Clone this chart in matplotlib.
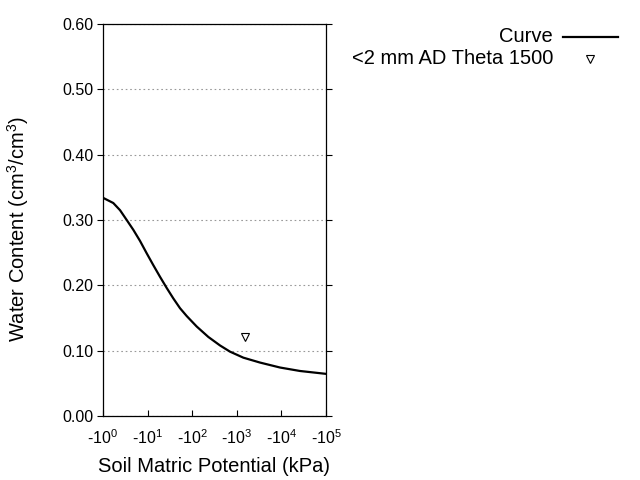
import math
import matplotlib
matplotlib.use("Agg")
import matplotlib.pyplot as plt
from matplotlib.ticker import FixedLocator, FuncFormatter, NullLocator
from matplotlib.lines import Line2D

plt.rcParams['font.family'] = ['Liberation Sans', 'DejaVu Sans']
plt.rcParams['mathtext.fontset'] = 'custom'
plt.rcParams['mathtext.rm'] = 'Liberation Sans'
plt.rcParams['mathtext.it'] = 'Liberation Sans:italic'
plt.rcParams['mathtext.bf'] = 'Liberation Sans:bold'

# Curve (|potential| in kPa, water content)
curve_psi = [1.0, 1.7, 2.41, 3.4, 4.78, 6.76, 9.55, 13.4, 19.0, 26.8, 37.7, 53.3, 75.3,
             126, 230, 420, 704, 1400, 3310, 9310, 26100, 100000]
curve_theta = [0.334, 0.326, 0.315, 0.300, 0.285, 0.268, 0.249, 0.231, 0.213, 0.196, 0.180,
               0.165, 0.153, 0.137, 0.121, 0.108, 0.0985, 0.0893, 0.0818, 0.0742, 0.0689, 0.0645]

# Measured point
point_psi = [1500]
point_theta = [0.121]

xticks = [1, 10, 100, 1000, 10000, 100000]
yticks = [0.0, 0.1, 0.2, 0.3, 0.4, 0.5, 0.6]

fig = plt.figure(figsize=(6.4, 4.8), dpi=100)
ax = fig.add_axes([103/640, 1-416/480, 223/640, 392/480])

ax.plot(curve_psi, curve_theta, color='black', lw=1.6)
ax.plot(point_psi, point_theta, linestyle='none', marker='v', markersize=6,
        markerfacecolor='white', markeredgecolor='black', markeredgewidth=0.8)

ax.set_xscale('log')
ax.set_xlim(1, 1e5)
ax.set_ylim(0, 0.6)
ax.xaxis.set_major_locator(FixedLocator(xticks))
ax.xaxis.set_minor_locator(NullLocator())
ax.xaxis.set_major_formatter(FuncFormatter(lambda v, p: '-10$^{%d}$' % round(math.log10(v))))
ax.yaxis.set_major_locator(FixedLocator(yticks))
ax.yaxis.set_major_formatter(FuncFormatter(lambda v, p: '%.2f' % v))

ax.grid(axis='y', linestyle=(0, (1.5, 2.5)), color='#999999', lw=0.8)
ax.tick_params(axis='x', direction='in', length=4, labelsize=11.5, pad=9)
ax.tick_params(axis='y', direction='out', length=4, labelsize=11.5, right=True, pad=3)
for sp in ax.spines.values():
    sp.set_linewidth(0.9)

ax.set_xlabel('Soil Matric Potential (kPa)', fontsize=14.5)
ax.set_ylabel('Water Content (cm$^3$/cm$^3$)', fontsize=14.5)
ax.xaxis.set_label_coords(0.5, (416-467)/392)
ax.yaxis.set_label_coords((18-103)/223, (416-229)/392)
ax.xaxis.label.set_va('center')
ax.yaxis.label.set_va('center')

# Legend (gnuplot-style, right-aligned text)
fig.text(553/640, 1-37/480, 'Curve', ha='right', va='center', fontsize=14.5)
fig.text(553/640, 1-59/480, '<2 mm AD Theta 1500', ha='right', va='center', fontsize=14.5)
fig.add_artist(Line2D([563/640, 618/640], [1-37/480, 1-37/480], color='black', lw=1.6))
fig.add_artist(Line2D([590/640], [1-59/480], linestyle='none', marker='v', markersize=6,
                      markerfacecolor='white', markeredgecolor='black', markeredgewidth=0.8))

fig.savefig('out.png', dpi=100)
